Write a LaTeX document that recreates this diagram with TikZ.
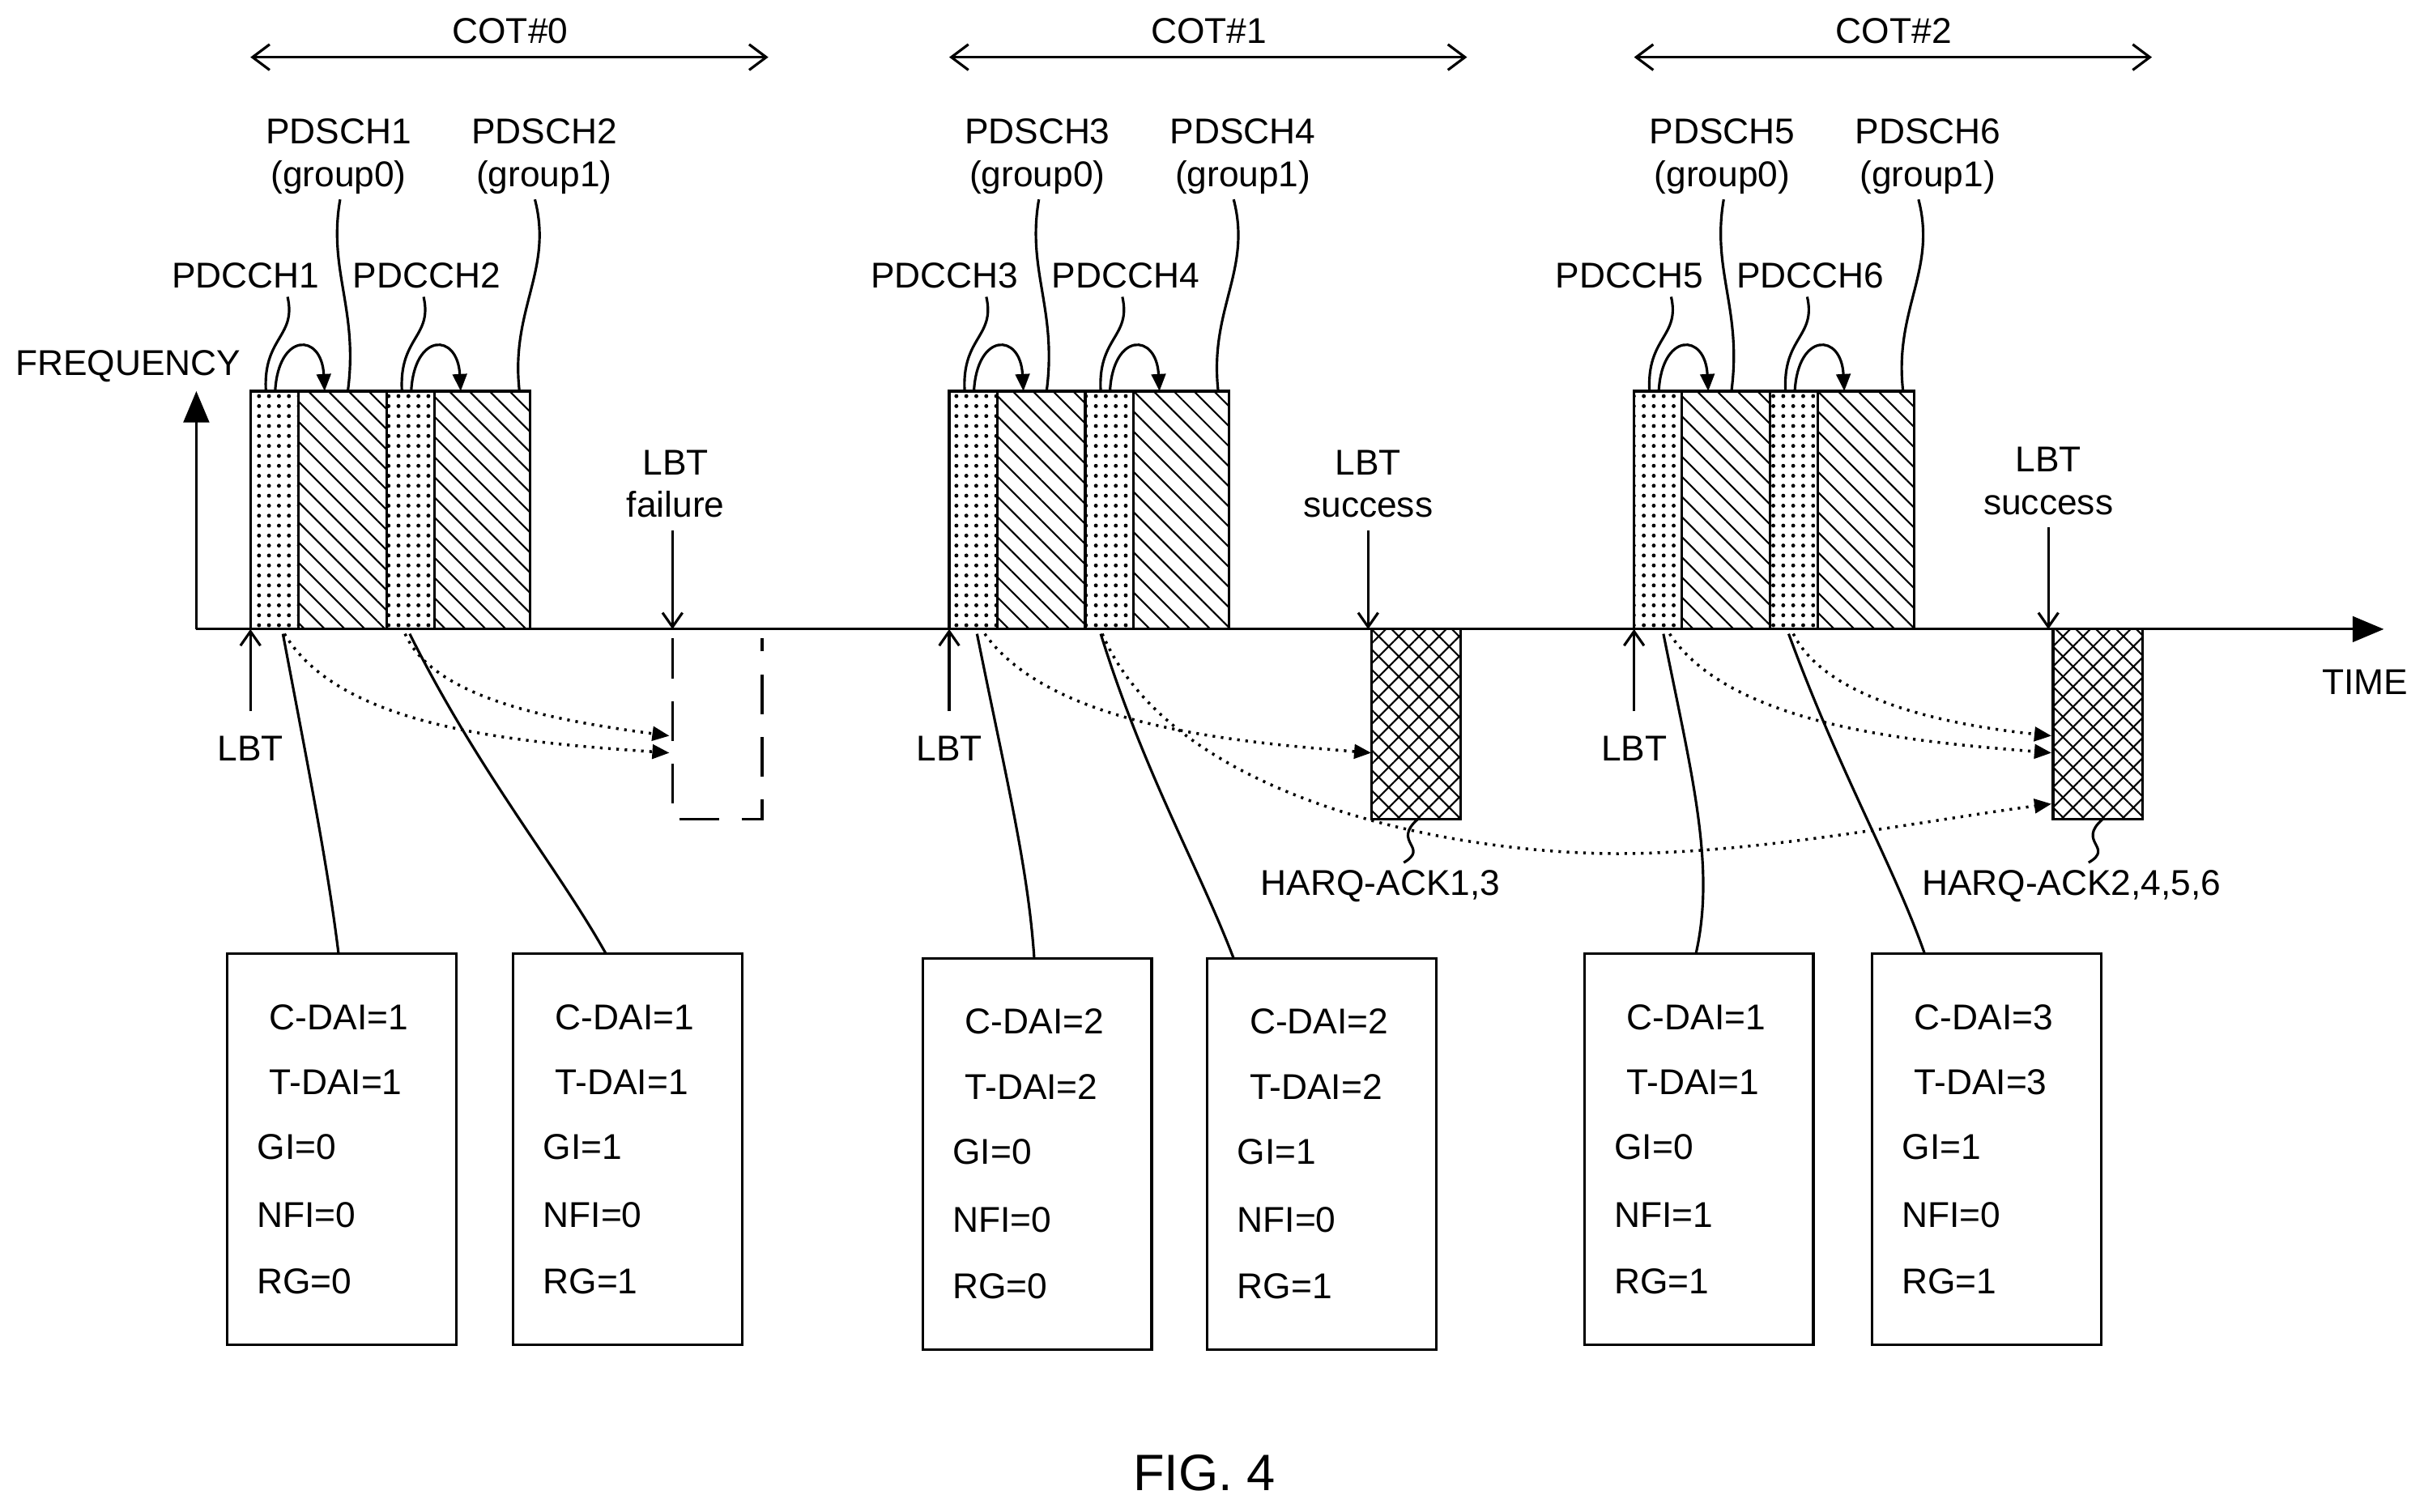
\documentclass[tikz,border=0pt]{standalone}
\usepackage{fontspec}
\setmainfont{Liberation Sans}
\usetikzlibrary{arrows.meta,patterns,patterns.meta}
\begin{document}
\begin{tikzpicture}[x=0.019088cm,y=-0.019088cm,
  every node/.style={font=\fontsize{12.6}{15}\selectfont,inner sep=0pt},
  ln/.style={line width=0.9pt},
  tip/.style={-{Triangle[length=6pt,width=5pt]}},
  barb/.style={-{Straight Barb[length=5pt,width=7pt]}},
  dot/.style={ln,dotted,line width=1pt,tip},
  ctl/.style={ln,pattern={Dots[distance=3.5pt,radius=0.7pt]}},
  sch/.style={ln,pattern={Lines[angle=-45,distance=5pt,line width=0.6pt]}},
  ack/.style={ln,pattern={Lines[angle=45,distance=5pt,line width=0.6pt]},postaction={pattern={Lines[angle=-45,distance=5pt,line width=0.6pt]}}}]
\useasboundingbox (0,0) rectangle (1568,978);
% axes
\coordinate (o) at (127,407);
\coordinate (fy) at (127,253);
\coordinate (tx) at (1542,407);
\draw[ln,-{Triangle[length=11pt,width=9pt]}] (o) -- (fy);
\draw[ln,-{Triangle[length=11pt,width=9pt]}] (o) -- (tx);
\node (freq) at (83,237) {FREQUENCY};
\node (time) at (1530,441) {TIME};
% COTs
\foreach \o/\n/\a/\b in {162/0/1/2,614/1/3/4,1057/2/5/6}{
  \coordinate (cl\n) at (\o,37);
  \coordinate (cr\n) at (\o+335,37);
  \draw[ln,{Straight Barb[length=6pt,width=9pt]}-{Straight Barb[length=6pt,width=9pt]}] (cl\n) -- (cr\n);
  \node (cot\n) at (\o+168,20) {COT\#\n};
  \draw[ctl] (\o,253) rectangle (\o+31,407);
  \draw[sch] (\o+31,253) rectangle (\o+88,407);
  \draw[ctl] (\o+88,253) rectangle (\o+119,407);
  \draw[sch] (\o+119,253) rectangle (\o+181,407);
  \node[align=center] (sa\n) at (\o+57,101) {PDSCH\a\\(group0)};
  \node[align=center] (sb\n) at (\o+190,101) {PDSCH\b\\(group1)};
  \node (ca\n) at (\o-3,178) {PDCCH\a};
  \node (cb\n) at (\o+114,178) {PDCCH\b};
  % leaders
  \draw[ln] (\o+58,129) .. controls (\o+50,175) and (\o+70,200) .. (\o+63,253);
  \draw[ln] (\o+184,129) .. controls (\o+196,175) and (\o+168,200) .. (\o+174,253);
  \draw[ln] (\o+24,192) .. controls (\o+30,218) and (\o+8,218) .. (\o+10,253);
  \draw[ln] (\o+112,192) .. controls (\o+118,218) and (\o+96,218) .. (\o+98,253);
  % control-to-data arrows
  \draw[ln,tip] (\o+16,253) .. controls (\o+18,215) and (\o+46,215) .. (\o+48,253);
  \draw[ln,tip] (\o+104,253) .. controls (\o+106,215) and (\o+134,215) .. (\o+136,253);
  % LBT
  \coordinate (lbt\n) at (\o,460);
  \coordinate (lbtt\n) at (\o,407);
  \draw[ln,barb] (lbt\n) -- (lbtt\n);
  \node (lbtl\n) at (\o,484) {LBT};
}
% LBT failure / success
\node[align=center] (f0) at (437,313) {LBT\\failure};
\coordinate (f0a) at (435,343); \coordinate (f0b) at (435,407);
\draw[ln,barb] (f0a) -- (f0b);
\draw[ln,dashed,dash pattern=on 14pt off 8pt] (435,413) -- (435,530) -- (493,530) -- (493,413);
\node[align=center] (s1) at (885,313) {LBT\\success};
\coordinate (s1a) at (885,343); \coordinate (s1b) at (885,407);
\draw[ack] (887,407) rectangle (945,530);
\draw[ln,barb] (s1a) -- (s1b);
\node[align=center] (s2) at (1325,311) {LBT\\success};
\coordinate (s2a) at (1325,341); \coordinate (s2b) at (1325,407);
\draw[ack] (1328,407) rectangle (1386,530);
\draw[ln,barb] (s2a) -- (s2b);
\node (h1) at (893,573) {HARQ-ACK1,3};
\node (h2) at (1340,573) {HARQ-ACK2,4,5,6};
\draw[ln] (917,530) .. controls (900,545) and (925,548) .. (908,558);
\draw[ln] (1360,530) .. controls (1343,545) and (1368,548) .. (1351,558);
% dotted HARQ arrows
\draw[dot] (184,410) .. controls (220,470) and (330,480) .. (433,487);
\draw[dot] (262,410) .. controls (280,450) and (350,465) .. (433,476);
\draw[dot] (637,410) .. controls (680,470) and (800,480) .. (887,487);
\draw[dot] (713,410) .. controls (760,520) and (950,555) .. (1060,552) .. controls (1150,550) and (1250,530) .. (1327,520);
\draw[dot] (1080,410) .. controls (1120,470) and (1240,480) .. (1327,487);
\draw[dot] (1160,410) .. controls (1180,450) and (1250,468) .. (1327,476);
% DCI boxes
\foreach \i/\x/\y/\c/\t/\g/\nf/\r in {1/147/617/1/1/0/0/0, 2/332/617/1/1/1/0/1, 3/597/620/2/2/0/0/0, 4/781/620/2/2/1/0/1, 5/1025/617/1/1/0/1/1, 6/1211/617/3/3/1/0/1}{
  \draw[ln] (\x,\y) rectangle (\x+148,\y+253);
  \coordinate (bt\i) at (\x+72,\y);
  \node[anchor=west] at (\x+27,\y+41) {C-DAI=\c};
  \node[anchor=west] at (\x+27,\y+83) {T-DAI=\t};
  \node[anchor=west] at (\x+19,\y+125) {GI=\g};
  \node[anchor=west] at (\x+19,\y+169) {NFI=\nf};
  \node[anchor=west] at (\x+19,\y+212) {RG=\r};
}
\draw[ln] (183,410) .. controls (200,500) and (212,560) .. (bt1);
\draw[ln] (265,410) .. controls (310,500) and (360,560) .. (392,617);
\draw[ln] (632,410) .. controls (650,500) and (665,560) .. (bt3);
\draw[ln] (712,410) .. controls (740,500) and (775,560) .. (798,620);
\draw[ln] (1076,410) .. controls (1094,500) and (1110,560) .. (bt5);
\draw[ln] (1157,410) .. controls (1190,500) and (1225,560) .. (1245,617);
\node[font=\fontsize{18}{20}\selectfont] (fig) at (779,953) {FIG. 4};
\end{tikzpicture}
\end{document}
